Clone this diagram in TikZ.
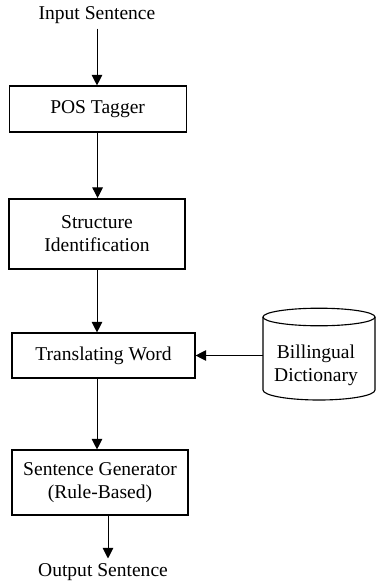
\documentclass[tikz,border=0pt]{standalone}
\usepackage{fontspec}
\setmainfont{Liberation Serif}
\usetikzlibrary{arrows.meta}

\begin{document}
\begin{tikzpicture}[
  box/.style={draw, line width=0.8pt, align=center, inner sep=0pt},
  arr/.style={-{Triangle[length=7.5pt,width=7.5pt]}, line width=0.7pt},
  font=\fontsize{13.9}{16.5}\selectfont]

  \useasboundingbox (0,0) rectangle (9.4,-14.55);
  \node (in) at (2.425,-0.375) {Input Sentence};
  \node[box, minimum width=4.425cm, minimum height=1.15cm] (pos) at (2.44,-2.725) {POS Tagger};
  \node[box, line width=1.4pt, minimum width=4.4cm, minimum height=1.75cm] (struct) at (2.425,-5.85) {Structure\\Identification};
  \node[box, minimum width=4.575cm, minimum height=1.125cm] (trans) at (2.5875,-8.8875) {Translating Word};
  \node[box, minimum width=4.4cm, minimum height=1.625cm] (gen) at (2.5,-12.0625) {Sentence Generator\\(Rule-Based)};
  \node (out) at (2.575,-14.3) {Output Sentence};

  % dictionary drum
  \draw[line width=0.8pt] (7.975,-7.925) ellipse (1.4 and 0.22);
  \draw[line width=0.8pt] (6.575,-7.925) -- (6.575,-9.75) arc (180:360:1.4 and 0.25) -- (9.375,-7.925);
  \node[align=center] (dict) at (7.9,-9.125) {Billingual\\Dictionary};
  \coordinate (dictside) at (6.575,-8.8875);

  \draw[arr] (in.south) -- (in.south |- pos.north);
  \draw[arr] (pos) -- (pos |- struct.north);
  \draw[arr] (struct.south) -- (struct.south |- trans.north);
  \draw[arr] (struct.south |- trans.south) -- (struct.south |- gen.north);
  \draw[arr] (dictside) -- (trans.east);
  \draw[arr] ([xshift=0.2cm]gen.south) -- ([xshift=0.2cm]gen.south |- out.north);
\end{tikzpicture}
\end{document}
